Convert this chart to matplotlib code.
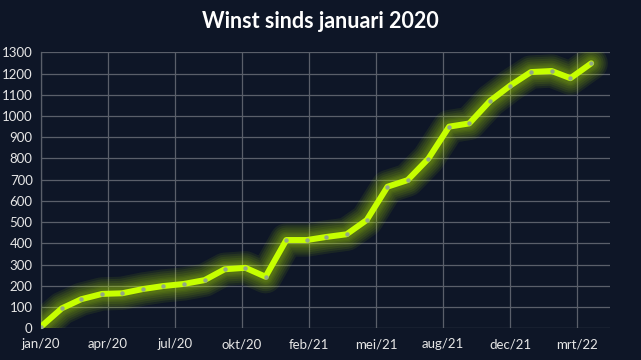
import matplotlib
matplotlib.use("Agg")
import matplotlib.pyplot as plt
import pandas as pd

# monthly values, jan 2020 .. apr 2022
months = pd.date_range("2020-01-01", periods=28, freq="MS")
winst = [8, 94, 137, 162, 165, 185, 199, 209, 227, 278, 285, 243,
         416, 416, 430, 443, 510, 667, 698, 799, 950, 965, 1071, 1143,
         1207, 1212, 1178, 1248]

tick_labels = ["jan/20", "apr/20", "jul/20", "okt/20", "feb/21",
               "mei/21", "aug/21", "dec/21", "mrt/22"]

bg = "#0e1627"
lime = "#c6ff00"
txt = "#e6e6e6"
grid = "#5a5f6a"

plt.rcParams["font.family"] = ["Lato", "DejaVu Sans"]

fig = plt.figure(figsize=(6.41, 3.60), dpi=100, facecolor=bg)
ax = fig.add_axes([0.064, 0.088, 0.8876, 0.7667], facecolor=bg)

start = pd.Timestamp("2020-01-01")
ticks = [start + pd.Timedelta(days=100 * i) for i in range(len(tick_labels))]

# soft glow: many wide translucent passes
for lw in [24, 21, 18, 15, 12, 10, 8]:
    ax.plot(months, winst, color=lime, lw=lw, alpha=0.07,
            solid_capstyle="round", solid_joinstyle="round", zorder=3)
ax.plot(months, winst, color=lime, lw=4.3, solid_capstyle="round",
        solid_joinstyle="round", zorder=4)
ax.plot(months, winst, ls="none", marker="o", ms=3.2, color="#93a886",
        mec="none", zorder=5)

ax.set_xlim(start, start + pd.Timedelta(days=849))
ax.set_ylim(0, 1300)
ax.set_yticks(range(0, 1301, 100))
ax.set_xticks(ticks)
ax.set_xticklabels(tick_labels)

ax.grid(True, color=grid, lw=0.9)
ax.set_axisbelow(True)
for s in ["top", "right", "bottom"]:
    ax.spines[s].set_visible(False)
ax.spines["left"].set_color(grid)
ax.spines["left"].set_linewidth(0.9)
ax.tick_params(length=0, colors=txt, labelsize=9.5)
ax.tick_params(axis="x", pad=7)
ax.tick_params(axis="y", pad=6)

fig.text(0.5, 0.94, "Winst sinds januari 2020", ha="center", va="center",
         color="white", fontsize=15.5, fontweight="bold")

fig.savefig("out.png", dpi=100, facecolor=bg)
